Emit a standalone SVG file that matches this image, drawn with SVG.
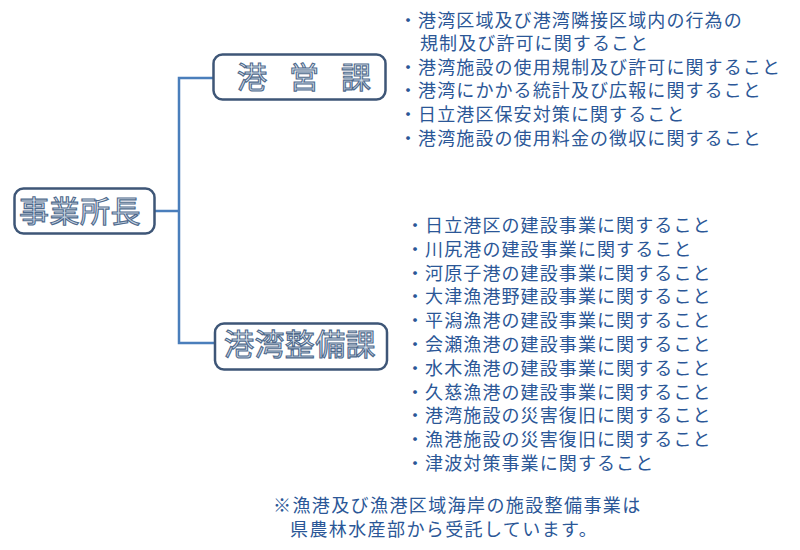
<svg xmlns="http://www.w3.org/2000/svg" width="800" height="550" viewBox="0 0 800 550">
  <defs>
    <linearGradient id="lbl" x1="0" y1="0" x2="0" y2="1">
      <stop offset="0" stop-color="#ffffff"/>
      <stop offset="0.5" stop-color="#dfe7f1"/>
      <stop offset="1" stop-color="#b3c4da"/>
    </linearGradient>
  </defs>
  <style>
    .box { fill: #ffffff; stroke: #3e5677; stroke-width: 2.5; }
    .lbl { font-family: "Noto Sans CJK JP", "Noto Sans CJK SC", sans-serif; font-size: 30px; fill: url(#lbl); stroke: #4f6a8c; stroke-width: 1.1; }
    .conn { fill: none; stroke: #4a7ebb; stroke-width: 2.5; }
    .item { font-family: "Noto Sans CJK JP", "Noto Sans CJK SC", sans-serif; font-size: 18px; fill: #2b5797; letter-spacing: 1.1px; }
    .note { font-family: "Noto Sans CJK JP", "Noto Sans CJK SC", sans-serif; font-size: 18px; fill: #2b5797; letter-spacing: 1.4px; }
  </style>
  <rect width="800" height="550" fill="#ffffff"/>

  <g id="connectors">
    <path class="conn" d="M155 211 H179"/>
    <path class="conn" d="M213 78 H179 V343 H215"/>
  </g>

  <g id="node-director">
    <rect class="box" x="14.5" y="188.5" width="140" height="45" rx="9"/>
    <text class="lbl" x="19" y="222" letter-spacing="0.5">事業所長</text>
  </g>

  <g id="node-kouei">
    <rect class="box" x="213.5" y="54.5" width="172" height="45" rx="9"/>
    <text class="lbl" x="237" y="88" letter-spacing="22">港営課</text>
  </g>

  <g id="node-kouwan">
    <rect class="box" x="215" y="323.5" width="172" height="46" rx="9"/>
    <text class="lbl" x="224" y="355" letter-spacing="0.4">港湾整備課</text>
  </g>

  <g id="list-kouei">
    <text class="item" x="399" y="26.5">・港湾区域及び港湾隣接区域内の行為の</text>
    <text class="item" x="420" y="50.1">規制及び許可に関すること</text>
    <text class="item" x="399" y="73.7">・港湾施設の使用規制及び許可に関すること</text>
    <text class="item" x="399" y="97.3">・港湾にかかる統計及び広報に関すること</text>
    <text class="item" x="399" y="120.9">・日立港区保安対策に関すること</text>
    <text class="item" x="399" y="144.5">・港湾施設の使用料金の徴収に関すること</text>
  </g>

  <g id="list-kouwan">
    <text class="item" x="406" y="232">・日立港区の建設事業に関すること</text>
    <text class="item" x="406" y="255.8">・川尻港の建設事業に関すること</text>
    <text class="item" x="406" y="279.6">・河原子港の建設事業に関すること</text>
    <text class="item" x="406" y="303.4">・大津漁港野建設事業に関すること</text>
    <text class="item" x="406" y="327.2">・平潟漁港の建設事業に関すること</text>
    <text class="item" x="406" y="351">・会瀬漁港の建設事業に関すること</text>
    <text class="item" x="406" y="374.8">・水木漁港の建設事業に関すること</text>
    <text class="item" x="406" y="398.6">・久慈漁港の建設事業に関すること</text>
    <text class="item" x="406" y="422.4">・港湾施設の災害復旧に関すること</text>
    <text class="item" x="406" y="446.2">・漁港施設の災害復旧に関すること</text>
    <text class="item" x="406" y="470">・津波対策事業に関すること</text>
  </g>

  <g id="footnote">
    <text class="note" x="273" y="512">※漁港及び漁港区域海岸の施設整備事業は</text>
    <text class="note" x="290" y="536">県農林水産部から受託しています。</text>
  </g>
</svg>
